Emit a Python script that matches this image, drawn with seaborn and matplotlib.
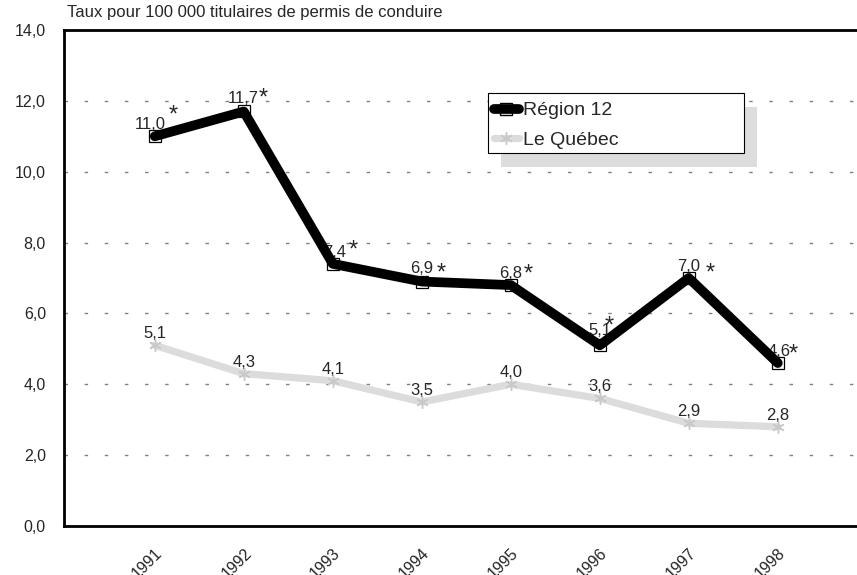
import matplotlib
matplotlib.use('Agg')
import numpy as np
import pandas as pd
import matplotlib.pyplot as plt
import matplotlib.patches as mpatches
import matplotlib.transforms as mtransforms
from matplotlib.lines import Line2D
import seaborn as sns

# Données
annees = [1991, 1992, 1993, 1994, 1995, 1996, 1997, 1998]
region12 = [11.0, 11.7, 7.4, 6.9, 6.8, 5.1, 7.0, 4.6]
quebec = [5.1, 4.3, 4.1, 3.5, 4.0, 3.6, 2.9, 2.8]
y_ticks = [0, 2, 4, 6, 8, 10, 12, 14]

# décalages des étiquettes (pixels: dx, vers le haut)
off_r12 = [(-5, 13), (-1, 14), (2, 13), (0, 15), (0, 13), (0, 16), (0, 13), (1, 13)]
off_star = [(18, 29), (19, 21), (20, 21), (19, 16), (17, 19), (9, 27), (21, 12), (15, 16)]

sns.set_style('white')
plt.rcParams['font.family'] = ['Liberation Sans', 'DejaVu Sans']

df = pd.DataFrame({'annee': annees, 'Région 12': region12, 'Le Québec': quebec})

fig = plt.figure(figsize=(8.57, 5.75), dpi=100)
ax = fig.add_axes([64 / 857, 1 - 526 / 575, 1 - 64 / 857, 496 / 575])

sns.lineplot(data=df, x='annee', y='Le Québec', ax=ax, color='#dcdcdc', linewidth=5.2,
             marker=(6, 2, 0), markersize=9, markeredgecolor='#c8c8c8', markeredgewidth=1,
             solid_capstyle='round', solid_joinstyle='round', zorder=2)
sns.lineplot(data=df, x='annee', y='Région 12', ax=ax, color='black', linewidth=7,
             marker='s', markersize=8, markerfacecolor='none', markeredgecolor='black',
             markeredgewidth=0.9, solid_capstyle='round', solid_joinstyle='round', zorder=3)

px = 0.72
for x, v, (dx, up), (sx, su) in zip(annees, region12, off_r12, off_star):
    ax.annotate(f'{v:.1f}'.replace('.', ','), (x, v), xytext=(dx * px, (up - 6) * px),
                textcoords='offset points', ha='center', va='baseline', fontsize=12, zorder=2.5)
    ax.annotate('*', (x, v), xytext=(sx * px, (su - 14) * px),
                textcoords='offset points', ha='center', va='baseline', fontsize=17, zorder=2.5)
for x, v in zip(annees, quebec):
    ax.annotate(f'{v:.1f}'.replace('.', ','), (x, v), xytext=(0, 7 * px),
                textcoords='offset points', ha='center', va='baseline', fontsize=12, zorder=1.5)

ax.set_xlim(1991 - 1.02, 1991 + 7.89)
ax.set_ylim(0, 14)
ax.set_yticks(y_ticks)
ax.set_yticklabels([f'{t:.1f}'.replace('.', ',') for t in y_ticks], fontsize=11.5)
ax.set_xticks(annees)
ax.set_xticklabels([str(a) for a in annees], rotation=45, ha='right',
                   rotation_mode='anchor', fontsize=11.5)
decal = mtransforms.ScaledTranslation(-5 / 100, 0, fig.dpi_scale_trans)
for lab in ax.get_xticklabels():
    lab.set_transform(lab.get_transform() + decal)
ax.tick_params(axis='x', direction='in', length=8.5, width=0.7, color='#555555', pad=14)
ax.tick_params(axis='y', length=0, pad=13)
ax.set_xlabel('')
ax.set_ylabel('')

ax.yaxis.grid(True, color='#808080', linewidth=1, linestyle=(0, (2.5, 12)))
ax.xaxis.grid(False)
for s in ['left', 'bottom', 'top']:
    ax.spines[s].set_color('black')
    ax.spines[s].set_linewidth(2)
ax.spines['right'].set_visible(False)

# ombre et cadre de la légende
ombre = mpatches.Rectangle((0.551, 0.724), 0.323, 0.121, transform=ax.transAxes,
                           facecolor='#dddddd', edgecolor='none', zorder=4)
ax.add_patch(ombre)
cadre = mpatches.Rectangle((0.5347, 0.752), 0.3228, 0.121, transform=ax.transAxes,
                           facecolor='white', edgecolor='black', linewidth=0.8, zorder=4.5)
ax.add_patch(cadre)

h1 = Line2D([], [], color='black', linewidth=7, marker='s', markersize=8,
            markerfacecolor='none', markeredgecolor='black', solid_capstyle='round')
h2 = Line2D([], [], color='#dcdcdc', linewidth=5.2, marker=(6, 2, 0), markersize=9,
            markeredgecolor='#c8c8c8', solid_capstyle='round')
leg = ax.legend([h1, h2], ['Région 12', 'Le Québec'], loc='upper left',
                bbox_to_anchor=(0.5392, 0.859), borderaxespad=0, fontsize=14, frameon=False,
                handlelength=1.3, handletextpad=0.22, borderpad=0.1, labelspacing=0.6)
leg.set_zorder(5)

fig.text(67 / 857, 1 - 13 / 575, 'Taux pour 100 000 titulaires de permis de conduire',
         fontsize=12, va='center', ha='left')

fig.savefig('out.png', dpi=100)
